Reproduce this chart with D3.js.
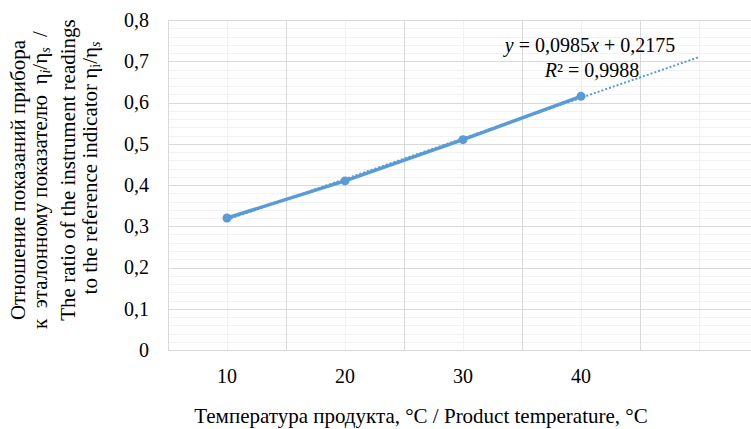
<!DOCTYPE html>
<html>
<head>
<meta charset="utf-8">
<script src="https://cdn.jsdelivr.net/npm/d3@7"></script>
</head>
<body style="margin:0">
<svg id="chart" width="751" height="429" font-family="Liberation Serif"></svg>
<script>
// chart data
const categories = ["10", "20", "30", "40"];
const ratioValues = [0.32, 0.41, 0.51, 0.615];
const yTicks = [0, 0.1, 0.2, 0.3, 0.4, 0.5, 0.6, 0.7, 0.8];
const equationText = ["0,0985", "0,2175"];
const rSquaredText = "0,9988";
const trendForward = 1; // periods the trendline runs past the last point

const FONT = "Liberation Serif";
const margin = { top: 20, left: 168, bottom: 79 };
const H = 429;
const plotH = H - margin.top - margin.bottom;
const band = 118;

const svg = d3.select("#chart");

// helper so every label gets the serif font on itself
const label = (sel, size) => sel.attr("font-family", FONT).attr("font-size", size).attr("fill", "#000");

// x: category index (1..n), with one empty slot after the data
const x = d3.scaleLinear()
    .domain([0.5, categories.length + 1.5])
    .range([margin.left, margin.left + band * (categories.length + 1)]);

const y = d3.scaleLinear()
    .domain([0, 0.8])
    .range([margin.top + plotH, margin.top]);

const locale = d3.formatLocale({ decimal: ",", thousands: " ", grouping: [3], currency: ["", ""] });
const fmt = d => d === 0 ? "0" : locale.format(".1f")(d);

// grid
const grid = svg.append("g");
const minorY = d3.range(0, 0.8001, 0.02).filter(v => Math.abs(Math.round(v * 10) - v * 10) > 1e-6);
grid.selectAll(".hminor").data(minorY).enter().append("line")
    .attr("x1", x.range()[0]).attr("x2", x.range()[1])
    .attr("y1", d => Math.round(y(d)) + 0.5).attr("y2", d => Math.round(y(d)) + 0.5)
    .attr("stroke", "#f2f2f2");
grid.selectAll(".vminor").data(d3.range(1, categories.length + 2)).enter().append("line")
    .attr("x1", d => Math.round(x(d)) + 0.5).attr("x2", d => Math.round(x(d)) + 0.5)
    .attr("y1", y(0)).attr("y2", y(0.8))
    .attr("stroke", "#f2f2f2");
grid.selectAll(".hmajor").data(yTicks).enter().append("line")
    .attr("x1", x.range()[0]).attr("x2", x.range()[1])
    .attr("y1", d => Math.round(y(d)) + 0.5).attr("y2", d => Math.round(y(d)) + 0.5)
    .attr("stroke", "#d9d9d9");
grid.selectAll(".vmajor").data(d3.range(0, categories.length + 2)).enter().append("line")
    .attr("x1", d => Math.round(x(d + 0.5)) + 0.5).attr("x2", d => Math.round(x(d + 0.5)) + 0.5)
    .attr("y1", y(0)).attr("y2", y(0.8))
    .attr("stroke", "#d9d9d9");

// y axis labels
svg.append("g")
    .attr("transform", `translate(${margin.left - 19},0)`)
    .call(d3.axisLeft(y).tickValues(yTicks).tickFormat(fmt).tickSize(0).tickPadding(0))
    .call(g => g.select(".domain").remove())
    .call(g => g.attr("font-family", FONT).attr("font-size", 20))
    .selectAll("text")
        .call(label, 20);

// x axis labels
svg.append("g")
    .selectAll("text")
    .data(categories)
    .enter().append("text")
        .attr("x", (d, i) => x(i + 1))
        .attr("y", 383)
        .attr("text-anchor", "middle")
        .call(label, 20)
        .text(d => d);

// trendline (least squares over category index)
const pts = ratioValues.map((v, i) => [i + 1, v]);
const mx = d3.mean(pts, p => p[0]), my = d3.mean(pts, p => p[1]);
const slope = d3.sum(pts, p => (p[0] - mx) * (p[1] - my)) / d3.sum(pts, p => (p[0] - mx) ** 2);
const icpt = my - slope * mx;
const trendX = [1, categories.length + trendForward];

const line = d3.line().x(d => x(d[0])).y(d => y(d[1]));

// series
svg.append("path")
    .datum(pts)
    .attr("d", line)
    .attr("fill", "none")
    .attr("stroke", "#5b9bd5")
    .attr("stroke-width", 3.5)
    .attr("stroke-linejoin", "round");

svg.append("g").selectAll("circle")
    .data(pts)
    .enter().append("circle")
        .attr("cx", d => x(d[0]))
        .attr("cy", d => y(d[1]))
        .attr("r", 4.5)
        .attr("fill", "#5b9bd5");

svg.append("path")
    .datum(trendX.map(t => [t, icpt + slope * t]))
    .attr("d", line)
    .attr("fill", "none")
    .attr("stroke", "#5b9bd5")
    .attr("stroke-width", 2)
    .attr("stroke-dasharray", "2,2");

// equation label
const eq = svg.append("text").attr("x", 590).attr("y", 52).attr("text-anchor", "middle").call(label, 20);
eq.append("tspan").attr("font-style", "italic").text("y");
eq.append("tspan").text(` = ${equationText[0]}`);
eq.append("tspan").attr("font-style", "italic").text("x");
eq.append("tspan").text(` + ${equationText[1]}`);
const r2 = svg.append("text").attr("x", 592).attr("y", 77).attr("text-anchor", "middle").call(label, 20);
r2.append("tspan").attr("font-style", "italic").text("R");
r2.append("tspan").text(`² = ${rSquaredText}`);

// x title
svg.append("text")
    .attr("x", 421)
    .attr("y", 423)
    .attr("text-anchor", "middle")
    .call(label, 21)
    .text("Температура продукта, °C / Product temperature, °C");

// y title, four rotated lines
const yTitle = [
    { bx: 25, cy: 180, parts: [["Отношение показаний прибора"]] },
    { bx: 47, cy: 180, parts: [["к\u00a0 эталонному показателю\u00a0 η"], ["i", "sub", true], ["/η"], ["s", "sub", true], ["\u00a0 /"]] },
    { bx: 75, cy: 170, parts: [["The ratio of the instrument readings"]] },
    { bx: 97, cy: 168, parts: [["to the reference indicator η"], ["i", "sub", false], ["/η"], ["s", "sub", true]] }
];
yTitle.forEach(l => {
    const t = svg.append("text")
        .attr("transform", `translate(${l.bx},${l.cy}) rotate(-90)`)
        .attr("text-anchor", "middle")
        .call(label, 21);
    l.parts.forEach(p => {
        const s = t.append("tspan").text(p[0]);
        if (p[1] === "sub") {
            s.attr("baseline-shift", "-22%").attr("font-size", 14);
            if (p[2]) s.attr("font-style", "italic");
        }
    });
});
</script>
</body>
</html>
